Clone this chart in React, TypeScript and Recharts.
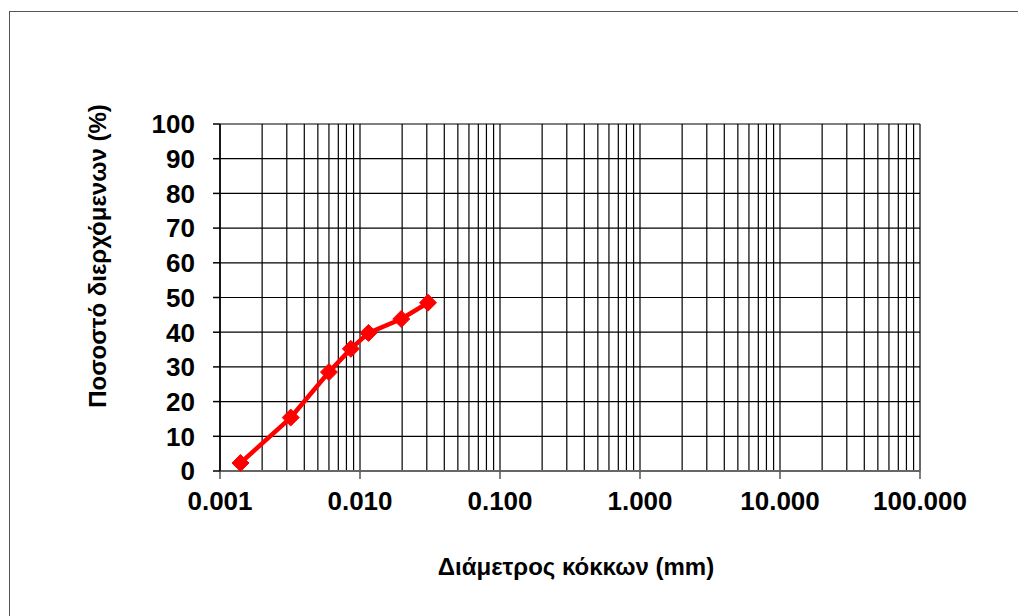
import React from "react";
import { LineChart, Line, XAxis, YAxis, CartesianGrid } from "recharts";

// Grain size distribution (hydrometer part)
const diameters = [0.0014, 0.0032, 0.006, 0.0086, 0.0115, 0.0197, 0.0306];
const passing = [2.3, 15.4, 28.5, 35.2, 39.8, 43.8, 48.5];

const majorTicks = [0.001, 0.01, 0.1, 1, 10, 100];
const majorLabels = ["0.001", "0.010", "0.100", "1.000", "10.000", "100.000"];
// every 1..9 multiple of each decade, used for the log grid
const minorMultipliers = [1, 2, 3, 4, 5, 6, 7, 8, 9];
const yTicks = [0, 10, 20, 30, 40, 50, 60, 70, 80, 90, 100];

const xGridTicks: number[] = [];
majorTicks.slice(0, -1).forEach((d) =>
  minorMultipliers.forEach((m) => xGridTicks.push(parseFloat((d * m).toPrecision(3))))
);
xGridTicks.push(100);

const data = diameters.map((d, i) => ({ d, p: passing[i] }));

const FONT = "'Liberation Sans', Arial, sans-serif";

const XTick = (props: any) => {
  const { x, y, payload } = props;
  const idx = majorTicks.findIndex((m) => Math.abs(m - payload.value) / m < 1e-6);
  if (idx < 0) return <g />;
  return (
    <g>
      <line x1={x} x2={x} y1={y} y2={y + 8} stroke="#555" strokeWidth={1.5} />
      <text
        x={x}
        y={y + 39}
        textAnchor="middle"
        fontFamily={FONT}
        fontWeight="bold"
        fontSize={26}
        fill="#000"
      >
        {majorLabels[idx]}
      </text>
    </g>
  );
};

const YTick = (props: any) => {
  const { x, y, payload } = props;
  return (
    <g>
      <line x1={x - 7} x2={x} y1={y} y2={y} stroke="#000" strokeWidth={1.5} />
      <text
        x={x - 25}
        y={y}
        dy="0.36em"
        textAnchor="end"
        fontFamily={FONT}
        fontWeight="bold"
        fontSize={26}
        fill="#000"
      >
        {payload.value}
      </text>
    </g>
  );
};

const Diamond = (props: any) => {
  const { cx, cy, index } = props;
  const r = 8.5;
  return (
    <polygon
      key={`dot-${index}`}
      points={`${cx},${cy - r} ${cx + r},${cy} ${cx},${cy + r} ${cx - r},${cy}`}
      fill="#ff0000"
      stroke="#ff0000"
      strokeWidth={1}
    />
  );
};

export default function App() {
  return (
    <div
      style={{
        position: "relative",
        width: 1018,
        height: 608,
        overflow: "hidden",
        background: "#fff",
      }}
    >
      <div
        style={{
          position: "absolute",
          left: 1,
          top: 3,
          width: 1100,
          height: 700,
          border: "1.5px solid #555",
        }}
      />
      <LineChart
        width={1010}
        height={600}
        data={data}
        margin={{ top: 116, right: 98, left: 132, bottom: 97 }}
        style={{ position: "absolute", left: 0, top: 0 }}
      >
        <CartesianGrid stroke="#000" strokeWidth={1.2} />
        <XAxis
          dataKey="d"
          type="number"
          scale="log"
          domain={[0.001, 100]}
          ticks={xGridTicks}
          interval={0}
          allowDataOverflow
          tick={<XTick />}
          tickLine={false}
          tickSize={0}
          tickMargin={0}
          height={40}
          axisLine={{ stroke: "#666", strokeWidth: 2 }}
        />
        <YAxis
          type="number"
          domain={[0, 100]}
          ticks={yTicks}
          interval={0}
          tick={<YTick />}
          tickLine={false}
          tickSize={0}
          tickMargin={0}
          width={80}
          axisLine={{ stroke: "#000", strokeWidth: 1.5 }}
        />
        <Line
          dataKey="p"
          stroke="#ff0000"
          strokeWidth={4.5}
          dot={Diamond}
          activeDot={false}
          isAnimationActive={false}
        />
      </LineChart>
      <svg
        width={1018}
        height={608}
        style={{ position: "absolute", left: 0, top: 0, pointerEvents: "none" }}
      >
        <text
          x={568}
          y={559}
          dy="0.35em"
          textAnchor="middle"
          fontFamily={FONT}
          fontWeight="bold"
          fontSize={24}
          fill="#000"
        >
          Διάμετρος κόκκων (mm)
        </text>
        <text
          transform="translate(90,248) rotate(-90)"
          dy="0.35em"
          textAnchor="middle"
          fontFamily={FONT}
          fontWeight="bold"
          fontSize={24}
          fill="#000"
        >
          Ποσοστό διερχόμενων (%)
        </text>
      </svg>
    </div>
  );
}
